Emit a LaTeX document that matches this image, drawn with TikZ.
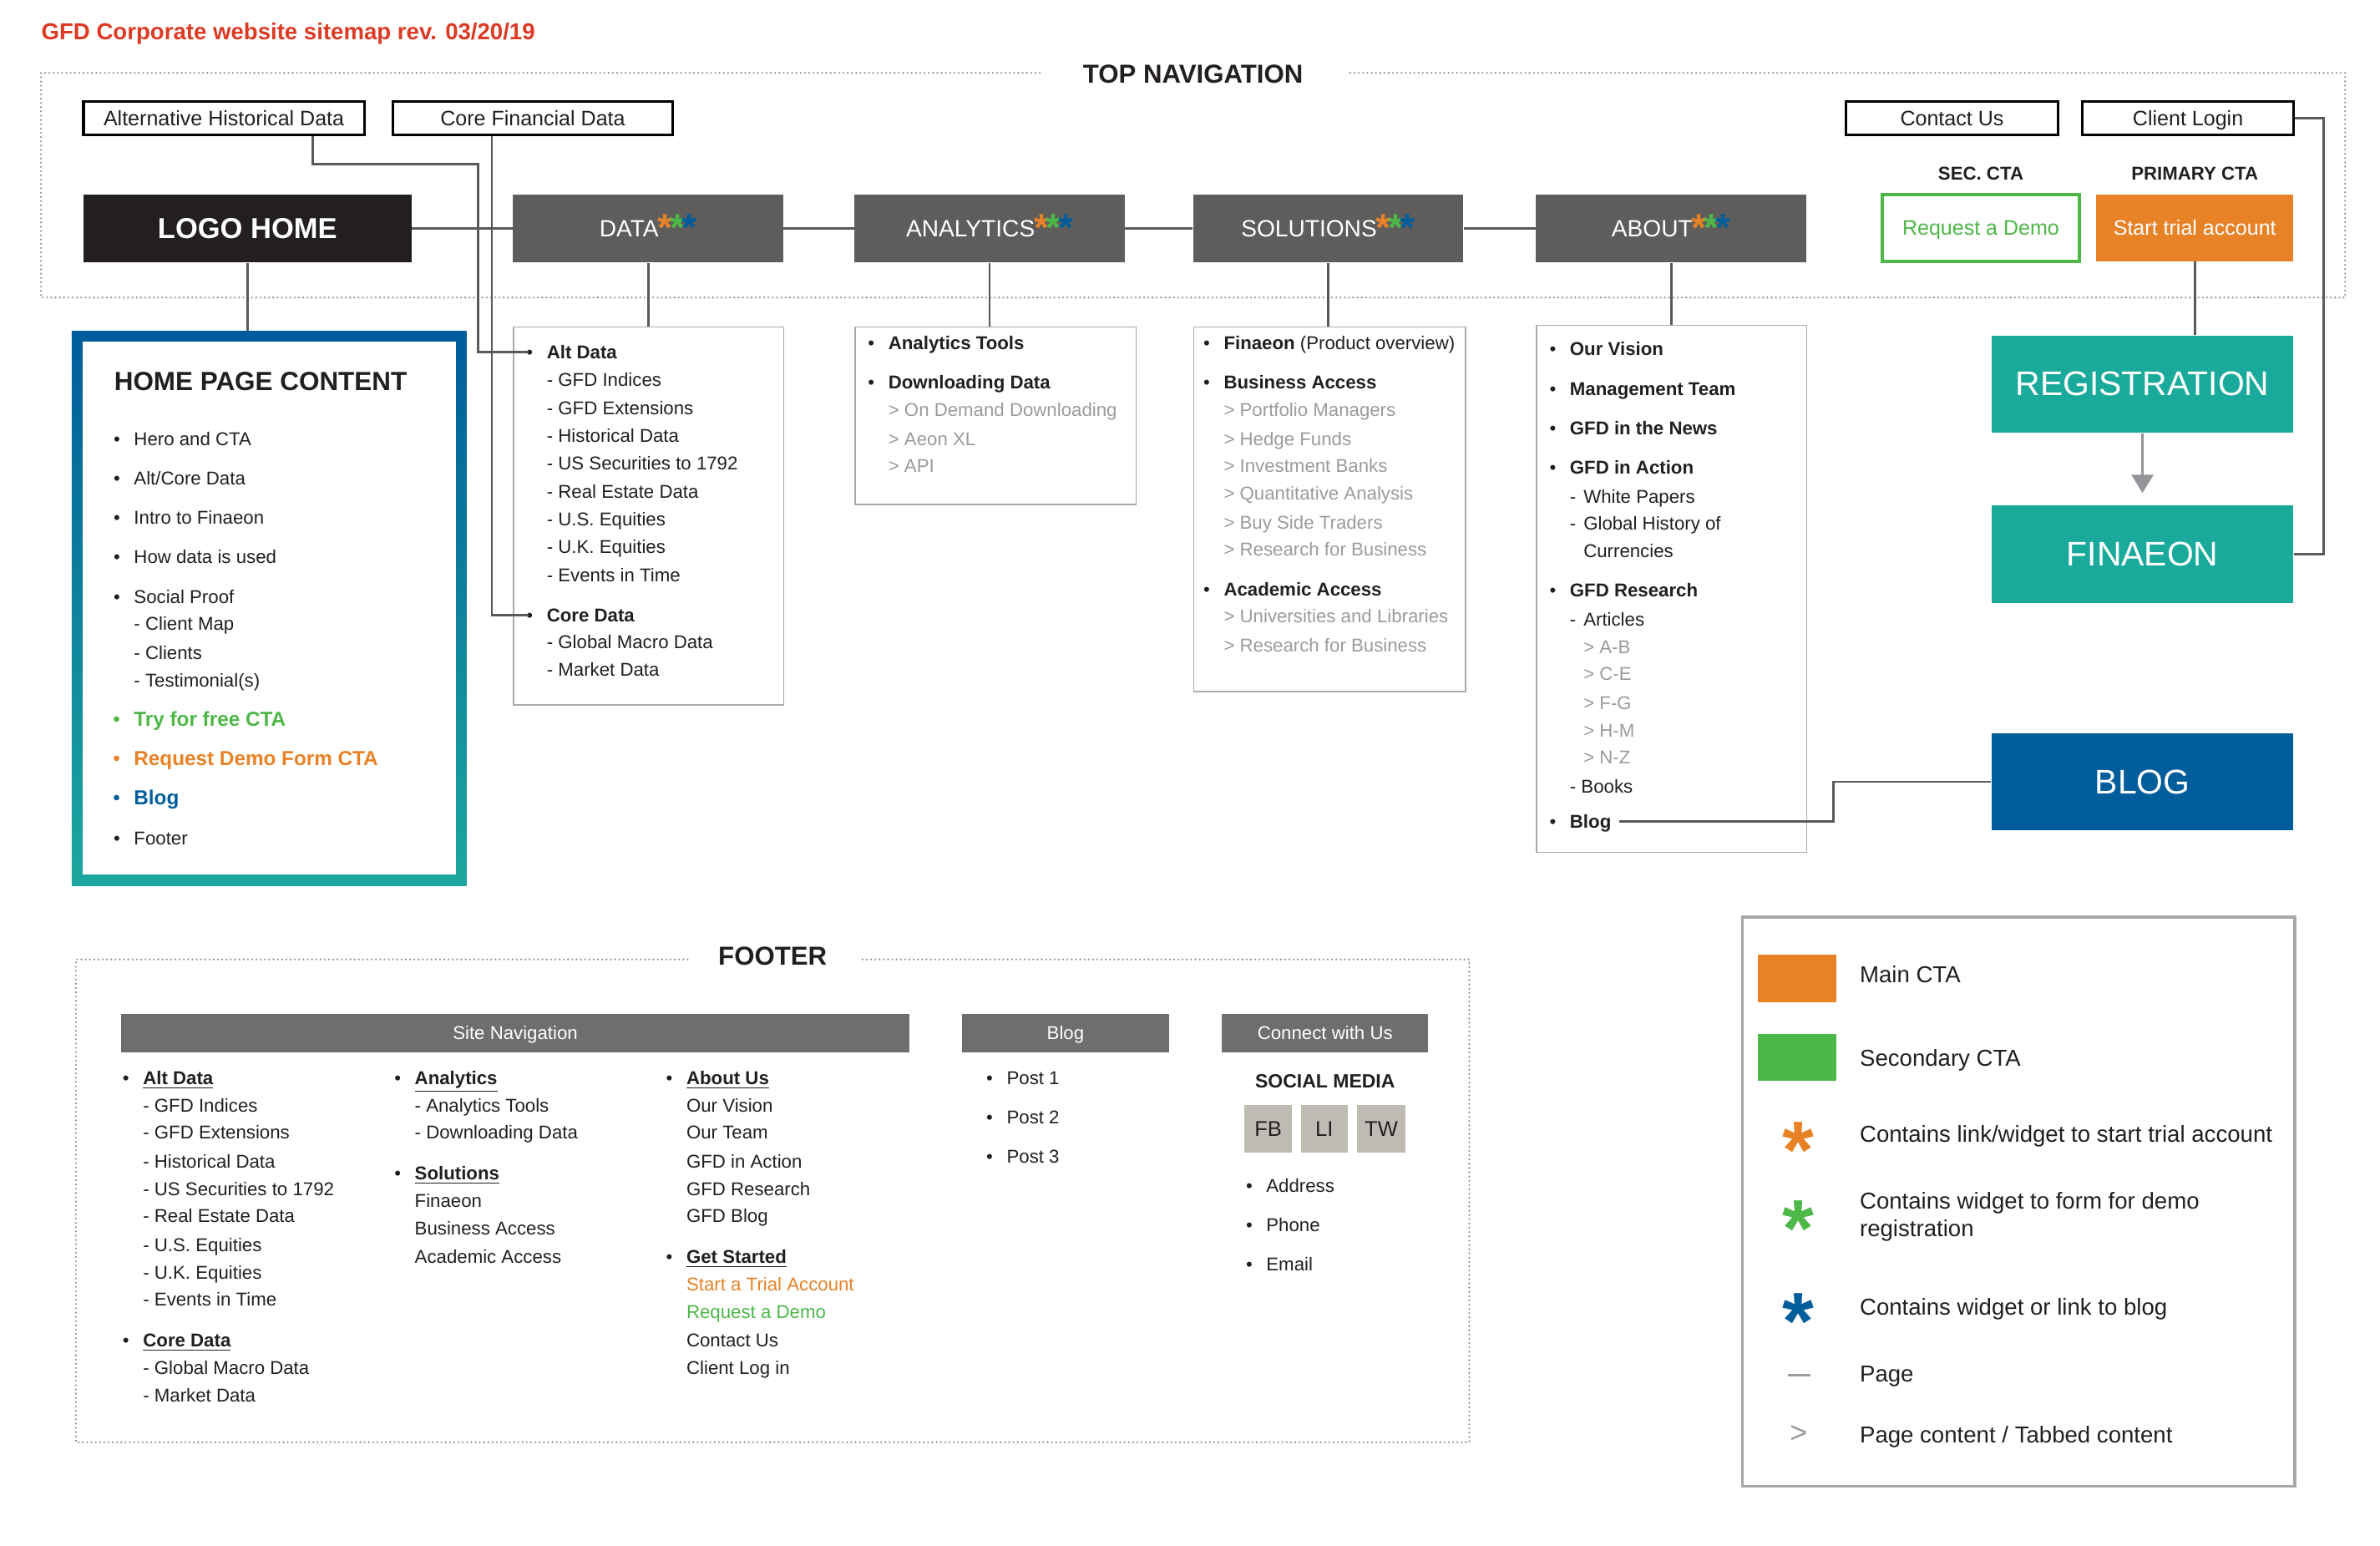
\documentclass[tikz,border=0pt]{standalone}
\usepackage{fontspec}
\setmainfont{Liberation Sans}
\usetikzlibrary{arrows.meta,calc}

\definecolor{titlered}{RGB}{221,58,36}
\definecolor{textblack}{RGB}{35,31,32}
\definecolor{logoblack}{RGB}{35,31,32}
\definecolor{navgray}{RGB}{94,93,91}
\definecolor{ctaorange}{RGB}{232,130,39}
\definecolor{ctagreen}{RGB}{77,183,72}
\definecolor{blogblue}{RGB}{0,93,155}
\definecolor{finteal}{RGB}{26,170,155}
\definecolor{homeblue}{RGB}{0,92,156}
\definecolor{hometeal}{RGB}{28,168,158}
\definecolor{linegray}{RGB}{88,89,91}
\definecolor{arrowgray}{RGB}{147,149,152}
\definecolor{dotgray}{RGB}{150,150,150}
\definecolor{boxgray}{RGB}{170,170,170}
\definecolor{legendgray}{RGB}{167,167,167}
\definecolor{tabgray}{RGB}{155,155,155}
\definecolor{bargray}{RGB}{110,110,110}
\definecolor{socialgray}{RGB}{190,187,181}

% list helpers
\newcommand{\bul}{\llap{\textbullet\hspace{6.5pt}}}
\newcommand{\tabitem}[1]{\textcolor{tabgray}{> #1}}
\newcommand{\dsh}{\makebox[6.4pt][l]{-}}
\newcommand{\fhead}[1]{\bul\textbf{\underline{#1}}}
\newcommand{\navstars}{\raisebox{-2pt}{\fontsize{18}{18}\selectfont\bfseries\kern-0.3pt\textcolor{ctaorange}{*}\kern-1.4pt\textcolor{ctagreen}{*}\kern-1.4pt\textcolor{blogblue}{*}}}

\tikzset{
    %Define size from pixel width and height
    sz/.style 2 args={minimum width=#1*0.025cm, minimum height=#2*0.025cm},
    %Define style for top navigation boxes
    navbox/.style={
           rectangle,
           fill=navgray,
           text=white,
           inner sep=0pt,
           sz={178}{45},
           text height=7.9pt,
           text depth=0pt,
           font=\fontsize{11}{13}\selectfont},
    linkbox/.style={
           rectangle,
           draw=black,
           line width=1.2pt,
           fill=white,
           inner sep=0pt,
           text=textblack,
           text height=7pt,
           text depth=0pt,
           font=\fontsize{9.8}{12}\selectfont},
    ctabox/.style={
           rectangle,
           inner sep=0pt,
           sz={130}{44},
           text height=7pt,
           text depth=0pt,
           font=\fontsize{9.8}{12}\selectfont},
    bigbox/.style={
           rectangle,
           inner sep=0pt,
           sz={199}{64},
           text=white,
           font=\fontsize{16}{19}\selectfont},
    listbox/.style={
           rectangle,
           draw=boxgray,
           line width=0.6pt,
           inner sep=0pt,
           anchor=north west},
    % Define style for text lines
    listitem/.style={
           anchor=west,
           inner sep=0pt,
           text=textblack,
           font=\fontsize{8.7}{10}\selectfont,
           text height=6.2pt,
           text depth=0pt},
    legenditem/.style={listitem, font=\fontsize{10.8}{13}\selectfont, text height=7.7pt},
    sectiontitle/.style={inner sep=0pt, text=textblack, font=\fontsize{12.2}{14}\selectfont\bfseries},
    barbox/.style={rectangle, fill=bargray, text=white, inner sep=0pt, text height=6.2pt, text depth=0pt, font=\fontsize{8.7}{10}\selectfont},
    socialbox/.style={rectangle, fill=socialgray, inner sep=0pt, sz={31}{31}, text=textblack, font=\fontsize{10}{12}\selectfont},
    legendstar/.style={anchor=base, inner sep=0pt, font=\fontsize{38}{38}\selectfont\bfseries},
    dotframe/.style={draw=dotgray, line width=1pt, dash pattern=on 0pt off 2pt, line cap=round},
    % Define line styles
    wire/.style={draw=linegray, line width=1.1pt},
    downpil/.style={
           draw=arrowgray,
           line width=1.1pt,
           -{Triangle[width=0.36cm,length=0.3cm]},
           shorten >=0.2cm}
}

\begin{document}
\begin{tikzpicture}[x=0.025cm, y=-0.025cm]
 \useasboundingbox[fill=white] (0,0) rectangle (1568,1018);

 \node[anchor=west, inner sep=0pt, text=titlered, font=\fontsize{10.8}{13}\selectfont\bfseries] (title) at (27,22) {GFD Corporate website sitemap rev. 03/20/19};

 % top navigation
 \node[sectiontitle] (topnav) at (786,49) {TOP NAVIGATION};
 \draw[dotframe] (685,48) -- (27,48) -- (27,196) -- (1545,196) -- (1545,48) -- (887,48);

 \node[linkbox, sz={185}{22}] (althist) at (147.5,78) {Alternative Historical Data};
 \node[linkbox, sz={184}{22}] (corefin) at (351,78) {Core Financial Data};
 \node[linkbox, sz={140}{22}] (contact) at (1286,78) {Contact Us};
 \node[linkbox, sz={139}{22}] (clientlogin) at (1441.5,78) {Client Login};

 \node[navbox, fill=logoblack, sz={216}{45}, text height=9.7pt, font=\fontsize{13.5}{16}\selectfont\bfseries] (logo) at (163,150.5) {LOGO HOME};
 \node[navbox] (data) at (427,150.5) {DATA\navstars};
 \node[navbox] (analytics) at (652,150.5) {ANALYTICS\navstars};
 \node[navbox] (solutions) at (875,150.5) {SOLUTIONS\navstars};
 \node[navbox] (about) at (1101,150.5) {ABOUT\navstars};

 \node[listitem, anchor=center, font=\fontsize{8.7}{10}\selectfont\bfseries] (seccta) at (1305,114) {SEC. CTA};
 \node[listitem, anchor=center, font=\fontsize{8.7}{10}\selectfont\bfseries] (primcta) at (1446,114) {PRIMARY CTA};
 \node[ctabox, draw=ctagreen, line width=1.5pt, fill=white, text=ctagreen] (demo) at (1305,150) {Request a Demo};
 \node[ctabox, fill=ctaorange, text=white] (starttrial) at (1446,150) {Start trial account};

 \draw[wire] (logo.east) -- (data.west);
 \draw[wire] (data.east) -- (analytics.west);
 \draw[wire] (analytics.east) -- (solutions.west);
 \draw[wire] (solutions.east) -- (about.west);

 % home page content
 \node[sz={260}{365}, anchor=north west, inner sep=0pt, top color=homeblue, bottom color=hometeal] (homebox) at (47,218) {};
 \node[sz={246}{351}, fill=white, inner sep=0pt] (homeinner) at (homebox.center) {};
 \node[sectiontitle, anchor=west, font=\fontsize{12.3}{14}\selectfont\bfseries] (hometitle) at (75,251) {HOME PAGE CONTENT};
 \foreach \y/\t [count=\i] in {
   289/{\bul Hero and CTA}, 315/{\bul Alt/Core Data}, 341/{\bul Intro to Finaeon},
   367/{\bul How data is used}, 393/{\bul Social Proof}, 411/{- Client Map}, 430/{- Clients},
   448/{- Testimonial(s)},
   474/{{\fontsize{9.5}{11}\selectfont\color{ctagreen}\bul\textbf{Try for free CTA}}},
   500/{{\fontsize{9.5}{11}\selectfont\color{ctaorange}\bul\textbf{Request Demo Form CTA}}},
   526/{{\fontsize{9.5}{11}\selectfont\color{blogblue}\bul\textbf{Blog}}},
   552/{\bul Footer}}
   \node[listitem] (home-\i) at (88,\y) {\t};
 \draw[wire] (logo.south) -- (logo.south |- homebox.north);

 % data
 \node[listbox, sz={178}{249}] (datalist) at (338,215) {};
 \foreach \y/\t [count=\i] in {
   232/{\bul\textbf{Alt Data}}, 250/{- GFD Indices}, 269/{- GFD Extensions}, 287/{- Historical Data},
   305/{- US Securities to 1792}, 324/{- Real Estate Data}, 342/{- U.S. Equities},
   360/{- U.K. Equities}, 379/{- Events in Time}, 405/{\bul\textbf{Core Data}},
   423/{- Global Macro Data}, 441/{- Market Data}}
   \node[listitem] (data-\i) at (360,\y) {\t};
 \draw[wire] (data.south) -- (data.south |- datalist.north);
 \draw[wire] ($(althist.south)+(58.5,0)$) |- (315,108) |- ($(data-1.west)+(-12,0)$);
 \draw[wire] ($(corefin.south)+(-27,0)$) |- ($(data-10.west)+(-12,0)$);

 % analytics
 \node[listbox, sz={185}{117}] (analyticslist) at (563,215) {};
 \foreach \y/\t [count=\i] in {
   226/{\bul\textbf{Analytics Tools}}, 252/{\bul\textbf{Downloading Data}},
   270/{\tabitem{On Demand Downloading}}, 289/{\tabitem{Aeon XL}}, 307/{\tabitem{API}}}
   \node[listitem] (analytics-\i) at (585,\y) {\t};
 \draw[wire] (analytics.south) -- (analytics.south |- analyticslist.north);

 % solutions
 \node[listbox, sz={179}{240}] (solutionslist) at (786,215) {};
 \foreach \y/\t [count=\i] in {
   226/{\bul\textbf{Finaeon} (Product overview)}, 252/{\bul\textbf{Business Access}},
   270/{\tabitem{Portfolio Managers}}, 289/{\tabitem{Hedge Funds}}, 307/{\tabitem{Investment Banks}},
   325/{\tabitem{Quantitative Analysis}}, 344/{\tabitem{Buy Side Traders}},
   362/{\tabitem{Research for Business}}, 388/{\bul\textbf{Academic Access}},
   406/{\tabitem{Universities and Libraries}}, 425/{\tabitem{Research for Business}}}
   \node[listitem] (solutions-\i) at (806,\y) {\t};
 \draw[wire] (solutions.south) -- (solutions.south |- solutionslist.north);

 % about
 \node[listbox, sz={178}{347}] (aboutlist) at (1012,214) {};
 \foreach \y/\t [count=\i] in {
   230/{\bul\textbf{Our Vision}}, 256/{\bul\textbf{Management Team}}, 282/{\bul\textbf{GFD in the News}},
   308/{\bul\textbf{GFD in Action}}, 327/{\dsh White Papers}, 345/{\dsh Global History of},
   363/{\hspace*{6.4pt}Currencies}, 389/{\bul\textbf{GFD Research}}, 408/{\dsh Articles},
   426/{\hspace*{6.4pt}\tabitem{A-B}}, 444/{\hspace*{6.4pt}\tabitem{C-E}},
   463/{\hspace*{6.4pt}\tabitem{F-G}}, 481/{\hspace*{6.4pt}\tabitem{H-M}},
   499/{\hspace*{6.4pt}\tabitem{N-Z}}, 518/{- Books}, 541/{\bul\textbf{Blog}}}
   \node[listitem] (about-\i) at (1034,\y) {\t};
 \draw[wire] (about.south) -- (about.south |- aboutlist.north);

 % registration, finaeon and blog
 \node[bigbox, fill=finteal] (registration) at (1411.5,253) {REGISTRATION};
 \node[bigbox, fill=finteal] (finaeon) at (1411.5,365) {FINAEON};
 \node[bigbox, fill=blogblue] (blogbox) at (1411.5,515) {BLOG};
 \draw[wire] (starttrial.south) -- (starttrial.south |- registration.north);
 \draw[downpil] (registration.south) -- (finaeon.north);
 \draw[wire] (clientlogin.east) -- ++(19,0) |- (finaeon.east);
 \draw[wire] ($(about-16.east)+(5,0)$) -- (1208,541) |- (blogbox.west);

 % footer
 \node[sectiontitle] (footer) at (509,630) {FOOTER};
 \draw[dotframe] (453,632) -- (50,632) -- (50,950) -- (968,950) -- (968,632) -- (566,632);
 \node[barbox, sz={519}{25}] (sitenav) at (339.5,680.5) {Site Navigation};
 \node[barbox, sz={136}{25}] (blogbar) at (702,680.5) {Blog};
 \node[barbox, sz={136}{25}] (connectbar) at (873,680.5) {Connect with Us};

 \foreach \y/\t [count=\i] in {
   710/{\fhead{Alt Data}}, 728/{- GFD Indices}, 746/{- GFD Extensions}, 765/{- Historical Data},
   783/{- US Securities to 1792}, 801/{- Real Estate Data}, 820/{- U.S. Equities},
   838/{- U.K. Equities}, 856/{- Events in Time}, 883/{\fhead{Core Data}},
   901/{- Global Macro Data}, 919/{- Market Data}}
   \node[listitem] (fdata-\i) at (94,\y) {\t};
 \foreach \y/\t [count=\i] in {
   710/{\fhead{Analytics}}, 728/{- Analytics Tools}, 746/{- Downloading Data},
   773/{\fhead{Solutions}}, 791/{Finaeon}, 809/{Business Access}, 828/{Academic Access}}
   \node[listitem] (fprod-\i) at (273,\y) {\t};
 \foreach \y/\t [count=\i] in {
   710/{\fhead{About Us}}, 728/{Our Vision}, 746/{Our Team}, 765/{GFD in Action},
   783/{GFD Research}, 801/{GFD Blog}, 828/{\fhead{Get Started}},
   846/{\textcolor{ctaorange}{Start a Trial Account}}, 864/{\textcolor{ctagreen}{Request a Demo}},
   883/{Contact Us}, 901/{Client Log in}}
   \node[listitem] (fabout-\i) at (452,\y) {\t};
 \foreach \y/\t [count=\i] in {710/Post 1, 736/Post 2, 762/Post 3}
   \node[listitem] (post-\i) at (663,\y) {\bul \t};

 \node[listitem, anchor=center, font=\fontsize{9}{11}\selectfont\bfseries] (socialmedia) at (873,712) {SOCIAL MEDIA};
 \node[socialbox] (fb) at (835.5,743.5) {FB};
 \node[socialbox] (li) at (872.5,743.5) {LI};
 \node[socialbox, sz={32}{31}] (tw) at (910,743.5) {TW};
 \foreach \y/\t [count=\i] in {781/Address, 807/Phone, 833/Email}
   \node[listitem] (contactline-\i) at (834,\y) {\bul \t};

 % legend
 \node[listbox, draw=legendgray, line width=1.4pt, sz={364}{375}] (legend) at (1147,603) {};
 \node[fill=ctaorange, inner sep=0pt, sz={52}{31}] (keyorange) at (1184,644.5) {};
 \node[fill=ctagreen, inner sep=0pt, sz={52}{31}] (keygreen) at (1184,696.5) {};
 \node[legendstar, text=ctaorange] (starorange) at (1185,776) {*};
 \node[legendstar, text=ctagreen] (stargreen) at (1185,828) {*};
 \node[legendstar, text=blogblue] (starblue) at (1185,889) {*};
 \draw[tabgray, line width=1.2pt] (1178,906) -- (1193,906);
 \node[legenditem, anchor=center, text=tabgray, font=\fontsize{14}{16}\selectfont] (keytab) at (1185,945) {>};
 \foreach \y/\t [count=\i] in {
   642/{Main CTA}, 697/{Secondary CTA}, 747/{Contains link/widget to start trial account},
   791/{Contains widget to form for demo}, 809/{registration},
   861/{Contains widget or link to blog}, 905/{Page}, 945/{Page content / Tabbed content}}
   \node[legenditem] (key-\i) at (1225,\y) {\t};
\end{tikzpicture}
\end{document}
